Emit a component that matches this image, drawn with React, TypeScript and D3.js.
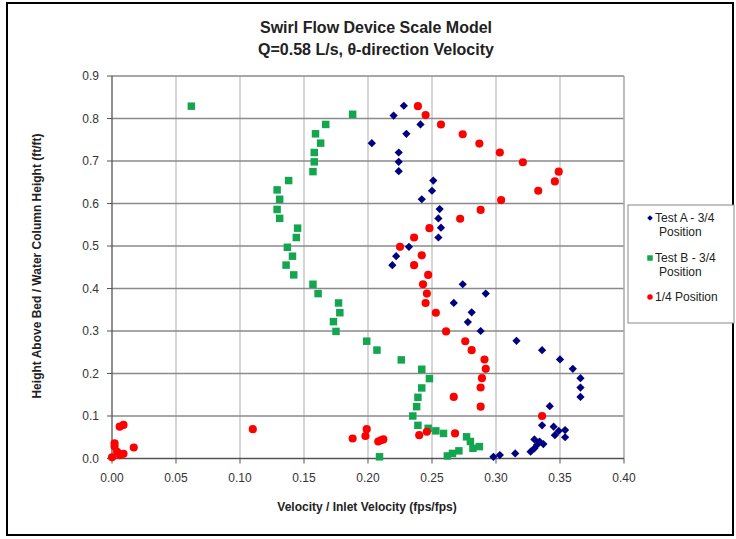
import React from "react";
import * as d3 from "d3";

const title1 = "Swirl Flow Device Scale Model";
const title2 = "Q=0.58 L/s, θ-direction Velocity";
const xLabel = "Velocity / Inlet Velocity (fps/fps)";
const yLabel = "Height Above Bed / Water Column Height (ft/ft)";
const xTicks = [0, 0.05, 0.1, 0.15, 0.2, 0.25, 0.3, 0.35, 0.4];
const yTicks = [0, 0.1, 0.2, 0.3, 0.4, 0.5, 0.6, 0.7, 0.8, 0.9];

const testA: [number, number][] = [
  [0.228, 0.83], [0.22, 0.807], [0.241, 0.786], [0.23, 0.764], [0.203, 0.742],
  [0.224, 0.72], [0.224, 0.698], [0.224, 0.676], [0.251, 0.654], [0.25, 0.63],
  [0.242, 0.61], [0.256, 0.587], [0.255, 0.565], [0.257, 0.543], [0.255, 0.52],
  [0.232, 0.498], [0.222, 0.476], [0.219, 0.455], [0.274, 0.41], [0.292, 0.388],
  [0.267, 0.366], [0.281, 0.344], [0.278, 0.321], [0.288, 0.3], [0.316, 0.277],
  [0.336, 0.255], [0.35, 0.233], [0.36, 0.211], [0.366, 0.189], [0.366, 0.167],
  [0.366, 0.145], [0.342, 0.123], [0.336, 0.078], [0.345, 0.075], [0.349, 0.065],
  [0.354, 0.067], [0.346, 0.055], [0.354, 0.05], [0.33, 0.045], [0.334, 0.04],
  [0.337, 0.034], [0.332, 0.032], [0.33, 0.024], [0.327, 0.016], [0.315, 0.012],
  [0.303, 0.008], [0.298, 0.004],
];

const testB: [number, number][] = [
  [0.062, 0.829], [0.188, 0.81], [0.167, 0.786], [0.159, 0.764], [0.163, 0.742],
  [0.158, 0.72], [0.158, 0.698], [0.157, 0.675], [0.138, 0.654], [0.129, 0.632],
  [0.131, 0.61], [0.129, 0.586], [0.131, 0.565], [0.145, 0.542], [0.144, 0.52],
  [0.137, 0.497], [0.141, 0.476], [0.136, 0.455], [0.142, 0.432], [0.157, 0.41],
  [0.161, 0.388], [0.177, 0.366], [0.178, 0.343], [0.173, 0.322], [0.175, 0.299],
  [0.199, 0.276], [0.207, 0.255], [0.226, 0.232], [0.242, 0.21], [0.248, 0.188],
  [0.242, 0.166], [0.239, 0.144], [0.238, 0.122], [0.235, 0.1], [0.239, 0.078],
  [0.247, 0.071], [0.253, 0.065], [0.259, 0.059], [0.277, 0.051], [0.28, 0.04],
  [0.287, 0.028], [0.282, 0.024], [0.271, 0.018], [0.266, 0.012], [0.262, 0.006],
  [0.209, 0.004],
];

const quarter: [number, number][] = [
  [0.239, 0.829], [0.245, 0.808], [0.257, 0.786], [0.274, 0.763], [0.287, 0.741],
  [0.303, 0.72], [0.321, 0.697], [0.349, 0.675], [0.346, 0.652], [0.333, 0.63],
  [0.304, 0.608], [0.288, 0.585], [0.272, 0.564], [0.248, 0.542], [0.236, 0.52],
  [0.225, 0.498], [0.242, 0.478], [0.236, 0.455], [0.247, 0.432], [0.243, 0.41],
  [0.246, 0.388], [0.245, 0.366], [0.253, 0.343], [0.261, 0.299], [0.276, 0.276],
  [0.281, 0.255], [0.291, 0.233], [0.292, 0.211], [0.289, 0.189], [0.288, 0.167],
  [0.267, 0.145], [0.288, 0.122], [0.336, 0.1], [0.268, 0.059], [0.246, 0.063],
  [0.24, 0.055], [0.212, 0.045], [0.21, 0.043], [0.208, 0.04], [0.199, 0.069],
  [0.198, 0.053], [0.188, 0.047], [0.11, 0.069], [0.009, 0.079], [0.006, 0.075],
  [0.002, 0.036], [0.002, 0.028], [0.017, 0.026], [0.004, 0.016], [0.009, 0.011],
  [0.006, 0.008], [0.0, 0.003],
];

const NAVY = "#000080";
const GREEN = "#14A550";
const RED = "#FF0000";
const FONT = "'Liberation Sans', Arial, sans-serif";

export default function App() {
  const W = 736, H = 539;
  const left = 112, right = 624, top = 76, bottom = 458.5;
  const x = d3.scaleLinear().domain([0, 0.4]).range([left, right]);
  const y = d3.scaleLinear().domain([0, 0.9]).range([bottom, top]);
  const diamond = d3.symbol().type(d3.symbolSquare).size(34)();
  const square = d3.symbol().type(d3.symbolSquare).size(56)();
  const circle = d3.symbol().type(d3.symbolCircle).size(52)();

  return (
    <svg width={W} height={H} style={{ position: "absolute", left: 0, top: 0, fontFamily: FONT }}>
      <rect x={0} y={0} width={W} height={H} fill="#fff" />
      <rect x={7} y={3} width={726} height={532} fill="none" stroke="#000" strokeWidth={2} />
      <text x={376} y={33} textAnchor="middle" fontSize={16} fontWeight="bold" fill="#222">{title1}</text>
      <text x={376} y={55} textAnchor="middle" fontSize={16} fontWeight="bold" fill="#222">{title2}</text>

      {xTicks.slice(1).map((t) => (
        <line key={"vx" + t} x1={x(t)} x2={x(t)} y1={top} y2={bottom} stroke="#c8c8c8" strokeWidth={1.5} />
      ))}
      {yTicks.slice(1).map((t) => (
        <line key={"hy" + t} x1={left} x2={right} y1={y(t)} y2={y(t)} stroke="#8a8a8a" strokeWidth={1.3} />
      ))}
      <line x1={right} x2={right} y1={top} y2={bottom} stroke="#b0b0b0" strokeWidth={1.3} />
      <line x1={left} x2={left} y1={top} y2={bottom} stroke="#555" strokeWidth={1.3} />
      <line x1={left} x2={right} y1={bottom} y2={bottom} stroke="#555" strokeWidth={1.3} />

      {yTicks.map((t) => (
        <g key={"yt" + t}>
          <line x1={left - 5} x2={left} y1={y(t)} y2={y(t)} stroke="#555" />
          <text x={left - 13} y={y(t) + 4} textAnchor="end" fontSize={12} fill="#333">{t.toFixed(1)}</text>
        </g>
      ))}
      {xTicks.map((t) => (
        <g key={"xt" + t}>
          <line x1={x(t)} x2={x(t)} y1={bottom} y2={bottom + 5} stroke="#555" />
          <text x={x(t)} y={bottom + 23} textAnchor="middle" fontSize={12} fill="#333">{t.toFixed(2)}</text>
        </g>
      ))}

      <text x={367} y={511} textAnchor="middle" fontSize={12} fontWeight="bold" fill="#222">{xLabel}</text>
      <text transform={`translate(41,266) rotate(-90)`} textAnchor="middle" fontSize={12} fontWeight="bold" fill="#222">{yLabel}</text>

      {testB.map(([vx, vy], i) => (
        <path key={"b" + i} d={square} transform={`translate(${x(vx)},${y(vy)})`} fill={GREEN} />
      ))}
      {quarter.map(([vx, vy], i) => (
        <path key={"r" + i} d={circle} transform={`translate(${x(vx)},${y(vy)})`} fill={RED} />
      ))}
      {testA.map(([vx, vy], i) => (
        <path key={"a" + i} d={diamond} transform={`translate(${x(vx)},${y(vy)}) rotate(45)`} fill={NAVY} />
      ))}

      <rect x={628} y={205} width={106} height={118} fill="#fff" stroke="#888" strokeWidth={1} />
      <path d={d3.symbol().type(d3.symbolSquare).size(16)()} transform="translate(650,218) rotate(45)" fill={NAVY} />
      <text x={655} y={222} fontSize={12} fill="#222">Test A - 3/4</text>
      <text x={659} y={236} fontSize={12} fill="#222">Position</text>
      <path d={d3.symbol().type(d3.symbolSquare).size(30)()} transform="translate(650,258)" fill={GREEN} />
      <text x={655} y={262} fontSize={12} fill="#222">Test B - 3/4</text>
      <text x={659} y={276} fontSize={12} fill="#222">Position</text>
      <path d={d3.symbol().type(d3.symbolCircle).size(24)()} transform="translate(650,297)" fill={RED} />
      <text x={655} y={301} fontSize={12} fill="#222">1/4 Position</text>
    </svg>
  );
}
